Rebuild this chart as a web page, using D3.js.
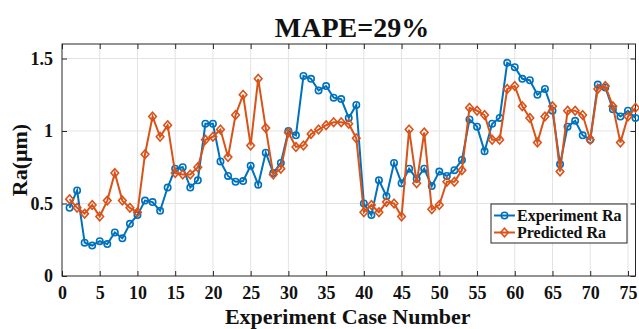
<!DOCTYPE html>
<html><head><meta charset="utf-8">
<script src="https://cdn.jsdelivr.net/npm/d3@7"></script>
<style>html,body{margin:0;padding:0;background:#fff;}svg{display:block;}</style>
</head><body>
<script>
const caseNumbers = d3.range(1, 77);
const experimentRa = [0.47,0.59,0.23,0.21,0.24,0.22,0.30,0.26,0.36,0.42,
  0.52,0.51,0.45,0.61,0.74,0.75,0.61,0.66,1.05,1.05,
  0.79,0.69,0.65,0.655,0.76,0.63,0.85,0.71,0.78,1.00,
  0.97,1.38,1.36,1.28,1.31,1.23,1.22,1.09,1.18,0.50,
  0.42,0.66,0.55,0.78,0.64,0.74,0.67,0.74,0.62,0.72,
  0.69,0.73,0.80,1.08,1.03,0.86,1.05,1.09,1.47,1.44,
  1.36,1.35,1.25,1.29,1.14,0.77,1.03,1.07,0.97,0.94,
  1.32,1.30,1.15,1.10,1.14,1.09];
const predictedRa = [0.53,0.47,0.43,0.49,0.41,0.52,0.71,0.52,0.47,0.44,
  0.84,1.10,0.96,1.04,0.71,0.70,0.70,0.75,0.94,0.96,
  1.01,0.82,1.11,1.25,0.90,1.36,1.02,0.70,0.74,0.99,
  0.89,0.90,0.98,1.01,1.04,1.06,1.06,1.05,0.95,0.44,
  0.49,0.44,0.51,0.50,0.41,1.01,0.64,0.99,0.46,0.49,
  0.65,0.65,0.73,1.16,1.14,1.11,0.94,0.94,1.29,1.31,
  1.17,1.09,0.92,1.10,1.17,0.72,1.14,1.14,1.11,0.94,
  1.29,1.31,1.17,0.92,1.10,1.16];
const xTicks = d3.range(0, 76, 5);
const yTicks = [0, 0.5, 1, 1.5];
const yTickLabels = ["0", "0.5", "1", "1.5"];
const seriesNames = ["Experiment Ra", "Predicted Ra"];
const titleText = "MAPE=29%";
const xLabel = "Experiment Case Number";
const yLabel = "Ra(\u03bcm)";

const W = 639, H = 329;
const L = 62, R = 635.5, T = 44, B = 276;
const blue = "#0072BD", orange = "#D95319", axisCol = "#262626";
const serif = "'Liberation Serif','Times New Roman',serif";

const svg = d3.select("body").append("svg").attr("width", W).attr("height", H);
const x = d3.scaleLinear().domain([0, 76]).range([L, R]);
const y = d3.scaleLinear().domain([0, 1.6]).range([B, T]);

// grid
const grid = svg.append("g");
grid.selectAll("line.gx").data(xTicks.filter(d => d > 0)).join("line")
  .attr("x1", d => x(d)).attr("x2", d => x(d)).attr("y1", T).attr("y2", B)
  .attr("stroke", "#e3e3e3").attr("stroke-width", 1);
grid.selectAll("line.gy").data(yTicks.filter(d => d > 0)).join("line")
  .attr("x1", L).attr("x2", R).attr("y1", d => y(d)).attr("y2", d => y(d))
  .attr("stroke", "#e3e3e3").attr("stroke-width", 1);

// axes
const xAxis = d3.axisBottom(x).tickValues(xTicks).tickSize(-5).tickPadding(10).tickFormat(d3.format("d"));
const yAxis = d3.axisLeft(y).tickValues(yTicks).tickSize(-5).tickPadding(9).tickFormat((d, i) => yTickLabels[i]);
const gx = svg.append("g").attr("transform", `translate(0,${B})`).call(xAxis);
const gy = svg.append("g").attr("transform", `translate(${L},0)`).call(yAxis);
const gxt = svg.append("g").attr("transform", `translate(0,${T})`).call(d3.axisTop(x).tickValues(xTicks).tickSize(-5).tickFormat(""));
const gyr = svg.append("g").attr("transform", `translate(${R},0)`).call(d3.axisRight(y).tickValues(yTicks).tickSize(-5).tickFormat(""));
[gx, gy, gxt, gyr].forEach(g => {
  g.select(".domain").remove();
  g.selectAll(".tick line").attr("stroke", axisCol);
  g.selectAll("text").attr("fill", "#111").style("font-family", serif).style("font-weight", "bold").style("font-size", "18px");
});
svg.append("rect").attr("x", L).attr("y", T).attr("width", R - L).attr("height", B - T)
  .attr("fill", "none").attr("stroke", axisCol).attr("stroke-width", 1);

// series
const pts = (vals) => caseNumbers.map((c, i) => [c, vals[i]]);
const line = d3.line().x(d => x(d[0])).y(d => y(d[1]));
const plot = svg.append("g");
plot.append("path").datum(pts(experimentRa)).attr("d", line).attr("fill", "none").attr("stroke", blue).attr("stroke-width", 2);
plot.selectAll("circle.e").data(pts(experimentRa)).join("circle")
  .attr("cx", d => x(d[0])).attr("cy", d => y(d[1])).attr("r", 3.2)
  .attr("fill", "none").attr("stroke", blue).attr("stroke-width", 1.6);
plot.append("path").datum(pts(predictedRa)).attr("d", line).attr("fill", "none").attr("stroke", orange).attr("stroke-width", 2);
const diamond = "M0,-4.3L3.8,0L0,4.3L-3.8,0Z";
plot.selectAll("path.p").data(pts(predictedRa)).join("path")
  .attr("d", diamond).attr("transform", d => `translate(${x(d[0])},${y(d[1])})`)
  .attr("fill", "none").attr("stroke", orange).attr("stroke-width", 1.6);

// legend
const lg = svg.append("g");
lg.append("rect").attr("x", 491).attr("y", 204).attr("width", 136).attr("height", 39)
  .attr("fill", "#fff").attr("stroke", axisCol).attr("stroke-width", 1);
[[blue, 215.5], [orange, 232.5]].forEach(([c, yy], i) => {
  lg.append("line").attr("x1", 494).attr("x2", 515).attr("y1", yy).attr("y2", yy).attr("stroke", c).attr("stroke-width", 2);
  if (i === 0) lg.append("circle").attr("cx", 504.5).attr("cy", yy).attr("r", 3.2).attr("fill", "none").attr("stroke", c).attr("stroke-width", 1.6);
  else lg.append("path").attr("d", diamond).attr("transform", `translate(504.5,${yy})`).attr("fill", "none").attr("stroke", c).attr("stroke-width", 1.6);
  lg.append("text").attr("x", 517).attr("y", yy + 5.5).text(seriesNames[i])
    .style("font-family", serif).style("font-weight", "bold").style("font-size", "16px").attr("fill", "#111");
});

// titles
svg.append("text").attr("x", 352).attr("y", 37).attr("text-anchor", "middle").text(titleText)
  .style("font-family", serif).style("font-weight", "bold").style("font-size", "28px").attr("fill", "#111");
svg.append("text").attr("x", (L + R) / 2 - 1).attr("y", 324).attr("text-anchor", "middle").text(xLabel)
  .style("font-family", serif).style("font-weight", "bold").style("font-size", "22px").attr("fill", "#111");
svg.append("text").attr("transform", `translate(27,${(T + B) / 2}) rotate(-90)`).attr("text-anchor", "middle").text(yLabel)
  .style("font-family", serif).style("font-weight", "bold").style("font-size", "22px").attr("fill", "#111");
</script>
</body></html>
